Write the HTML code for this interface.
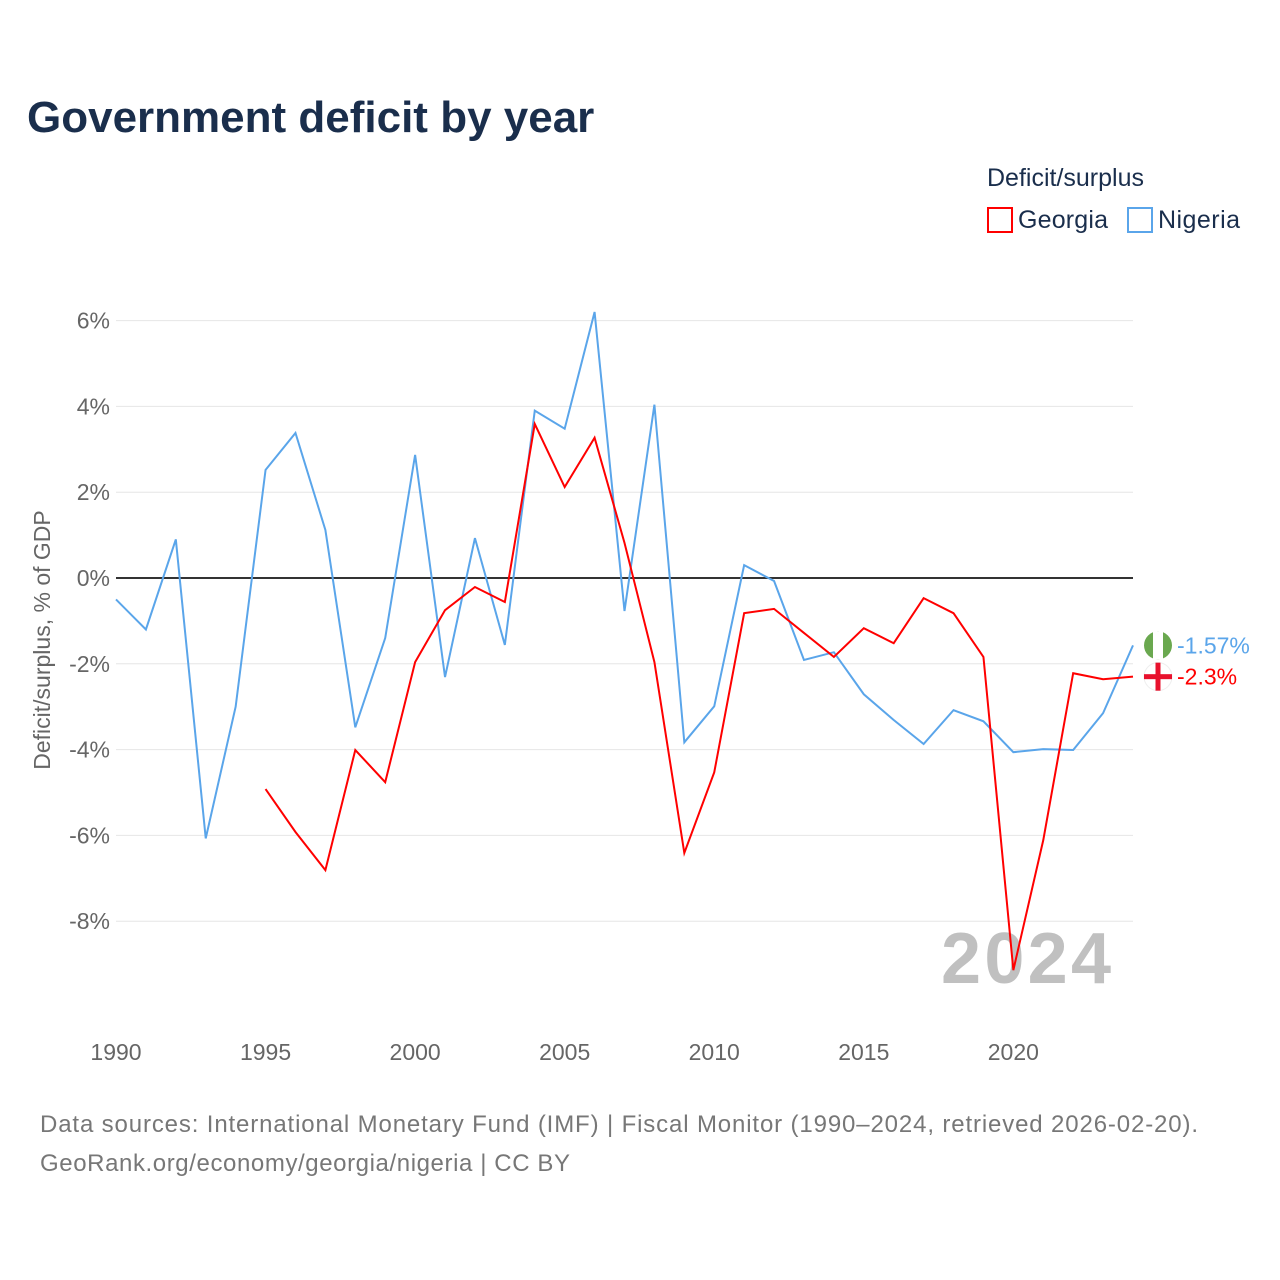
<!DOCTYPE html>
<html><head><meta charset="utf-8"><style>
body{margin:0;background:#fff;font-family:"Liberation Sans",sans-serif;}
#wrap{position:relative;width:1280px;height:1280px;overflow:hidden;}
</style></head><body>
<div id="wrap">
<svg id="chart" width="1280" height="1280"></svg>
</div>
<script>
const years = [];
for (let y = 1990; y <= 2024; y++) years.push(y);
const nigeriaValues = [-0.5,-1.2,0.9,-6.07,-3.0,2.52,3.38,1.12,-3.48,-1.4,2.87,-2.31,0.93,-1.56,3.9,3.48,6.2,-0.77,4.04,-3.83,-2.99,0.3,-0.07,-1.91,-1.73,-2.71,-3.31,-3.87,-3.08,-3.34,-4.06,-3.99,-4.01,-3.15,-1.57];
const georgiaYears = [];
for (let y = 1995; y <= 2024; y++) georgiaYears.push(y);
const georgiaValues = [-4.92,-5.92,-6.81,-4.01,-4.76,-1.96,-0.75,-0.21,-0.56,3.59,2.12,3.27,0.82,-1.96,-6.41,-4.53,-0.82,-0.72,-1.28,-1.84,-1.17,-1.52,-0.47,-0.82,-1.84,-9.14,-6.11,-2.22,-2.36,-2.3];
const yTicks = [6,4,2,0,-2,-4,-6,-8];
const yTickLabels = ["6%","4%","2%","0%","-2%","-4%","-6%","-8%"];
const xTicks = [1990,1995,2000,2005,2010,2015,2020];

const svg = document.getElementById('chart');
const NS = 'http://www.w3.org/2000/svg';
const xs = y => 116 + (y - 1990) * (1133 - 116) / 34;
const ys = v => 578 - v * 42.9;
function el(tag, attrs, text){
  const e = document.createElementNS(NS, tag);
  for (const k in attrs) e.setAttribute(k, attrs[k]);
  if (text !== undefined) e.textContent = text;
  svg.appendChild(e);
  return e;
}
let t;
t = el('text',{x:27,y:132,'font-size':44,'font-weight':'bold',fill:'#1a2e4c'},'Government deficit by year');


t = el('text',{x:987,y:186,'font-size':25,fill:'#1a2e4c'},'Deficit/surplus');


t = el('rect',{x:988,y:208,width:24,height:24,fill:'none',stroke:'#ff0000','stroke-width':2});


t = el('text',{x:1018,y:228,'font-size':25,fill:'#1a2e4c',textLength:90},'Georgia');


t = el('rect',{x:1128,y:208,width:24,height:24,fill:'none',stroke:'#5aa5ea','stroke-width':2});


t = el('text',{x:1158,y:228,'font-size':25,fill:'#1a2e4c',textLength:82},'Nigeria');



yTicks.forEach((v,i)=>{
  const g = el('line',{x1:116,x2:1133,y1:ys(v),y2:ys(v),stroke:v===0?'#333':'#e6e6e6','stroke-width':v===0?2:1});
  
  
  const l = el('text',{x:110,y:ys(v)+8,'font-size':23,fill:'#666','text-anchor':'end'},yTickLabels[i]);
  
  
});
xTicks.forEach(y=>{
  const l = el('text',{x:xs(y),y:1060,'font-size':23,fill:'#666','text-anchor':'middle'},String(y));
  
  
});
t = el('text',{x:50,y:640,'font-size':23,fill:'#666','text-anchor':'middle',transform:'rotate(-90 50 640)'},'Deficit/surplus, % of GDP');


t = el('text',{x:1111,y:983,'font-size':72,'font-weight':'bold',fill:'#c0c0c0','text-anchor':'end',textLength:170},'2024');



t = el('polyline',{points:years.map((y,i)=>xs(y)+','+ys(nigeriaValues[i])).join(' '),fill:'none',stroke:'#5aa5ea','stroke-width':2});


t = el('polyline',{points:georgiaYears.map((y,i)=>xs(y)+','+ys(georgiaValues[i])).join(' '),fill:'none',stroke:'#ff0000','stroke-width':2});



const nLast = nigeriaValues[nigeriaValues.length-1], gLast = georgiaValues[georgiaValues.length-1];
const ny = ys(nLast), gy = ys(gLast);
t = el('circle',{cx:1158,cy:ny,r:14,fill:'#6aa84f'});


el('rect',{x:1153,y:ny-14,width:10,height:28,fill:'#fff'});
t = el('text',{x:1177,y:ny+8,'font-size':23,fill:'#5aa5ea'},nLast+'%');


t = el('circle',{cx:1158,cy:gy,r:14,fill:'#fff',stroke:'#eee'});


el('rect',{x:1144,y:gy-2.5,width:28,height:5,fill:'#e8112d'});
el('rect',{x:1155.5,y:gy-14,width:5,height:28,fill:'#e8112d'});
t = el('text',{x:1177,y:gy+8,'font-size':23,fill:'#ff0000'},gLast+'%');



t = el('text',{x:40,y:1132,'font-size':24,fill:'#777',textLength:1158},'Data sources: International Monetary Fund (IMF) | Fiscal Monitor (1990–2024, retrieved 2026-02-20).');


t = el('text',{x:40,y:1171,'font-size':24,fill:'#777',textLength:530},'GeoRank.org/economy/georgia/nigeria | CC BY');


</script>
</body></html>
